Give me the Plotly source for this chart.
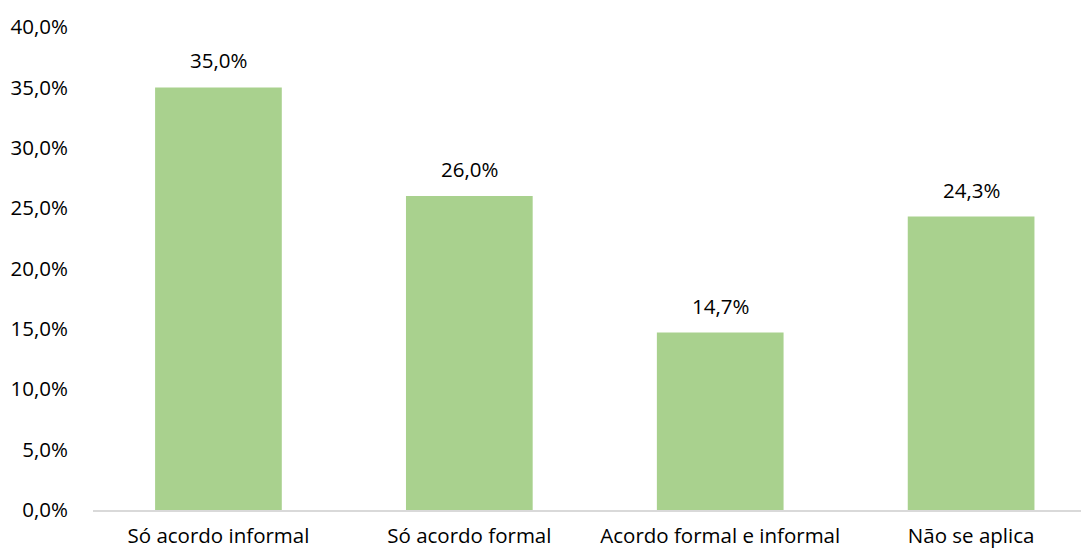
import plotly.graph_objects as go

categories = ["Só acordo informal", "Só acordo formal", "Acordo formal e informal", "Não se aplica"]
values = [35.0, 26.0, 14.7, 24.3]
tick_vals = [0, 5, 10, 15, 20, 25, 30, 35, 40]

FONT = "Open Sans"
TXT = "#000000"
FS = 20.5

fig = go.Figure()
fig.add_trace(go.Bar(
    x=list(range(len(categories))),
    y=values,
    marker=dict(color="#a9d18e", line=dict(width=0)),
    width=0.505,
    hoverinfo="skip",
))

for i, v in enumerate(values):
    fig.add_annotation(
        x=i, y=v, text=f"{v:.1f}".replace(".", ",") + "%",
        showarrow=False, yanchor="bottom", yshift=11,
        font=dict(family=FONT, size=FS, color=TXT),
    )

fig.update_layout(
    width=1081, height=552,
    margin=dict(l=93, r=0, t=27, b=42, pad=0),
    plot_bgcolor="white", paper_bgcolor="white",
    showlegend=False,
    separators=",.",
    font=dict(family=FONT, size=FS, color=TXT),
    xaxis=dict(
        tickmode="array",
        tickvals=list(range(len(categories))),
        ticktext=categories,
        range=[-0.5, 3.438],
        showgrid=False, zeroline=False,
        showline=True, linecolor="#d9d9d9", linewidth=2,
        ticks="", ticklabelstandoff=6,
        tickfont=dict(family=FONT, size=FS, color=TXT),
    ),
    yaxis=dict(
        range=[0, 40],
        tickmode="array", tickvals=tick_vals,
        ticktext=[f"{t:.1f}".replace(".", ",") + "%" for t in tick_vals],
        showgrid=False, zeroline=False, showline=False,
        ticks="", ticklabelstandoff=24,
        tickfont=dict(family=FONT, size=FS, color=TXT),
    ),
)

fig.write_html("out.html")
